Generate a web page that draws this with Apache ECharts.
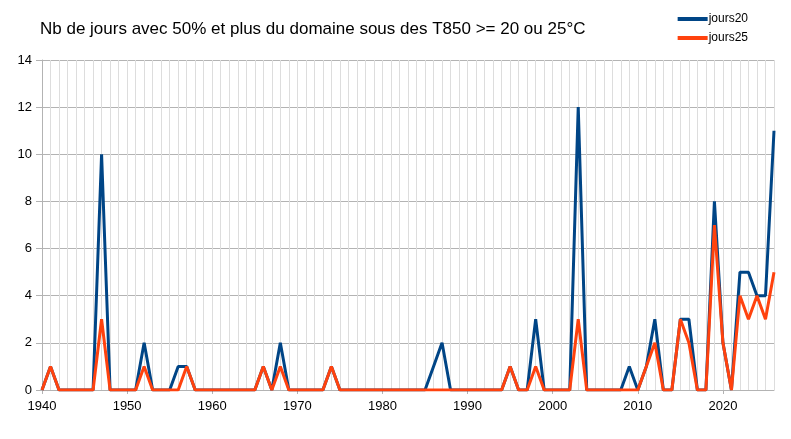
<!DOCTYPE html>
<html>
<head>
<meta charset="utf-8">
<script src="https://cdn.jsdelivr.net/npm/echarts@6/dist/echarts.min.js"></script>
<style>
html,body{margin:0;padding:0;background:#fff;}
#chart{width:791px;height:439px;}
</style>
</head>
<body>
<div id="chart"></div>
<script>
var titleText = "Nb de jours avec 50% et plus du domaine sous des T850 >= 20 ou 25°C";
var firstYear = 1940;
var lastYear = 2026;
var years = [];
for (var y = firstYear; y <= lastYear; y++) years.push(String(y));

// 1940 .. 2026
var jours20 = [
  0,1,0,0,0,0,0,10,0,0,   // 1940-1949
  0,0,2,0,0,0,1,1,0,0,    // 1950-1959
  0,0,0,0,0,0,1,0,2,0,    // 1960-1969
  0,0,0,0,1,0,0,0,0,0,    // 1970-1979
  0,0,0,0,0,0,1,2,0,0,    // 1980-1989
  0,0,0,0,0,1,0,0,3,0,    // 1990-1999
  0,0,0,12,0,0,0,0,0,1,   // 2000-2009
  0,1,3,0,0,3,3,0,0,8,    // 2010-2019
  2,0,5,5,4,4,11          // 2020-2026
];
var jours25 = [
  0,1,0,0,0,0,0,3,0,0,    // 1940-1949
  0,0,1,0,0,0,0,1,0,0,    // 1950-1959
  0,0,0,0,0,0,1,0,1,0,    // 1960-1969
  0,0,0,0,1,0,0,0,0,0,    // 1970-1979
  0,0,0,0,0,0,0,0,0,0,    // 1980-1989
  0,0,0,0,0,1,0,0,1,0,    // 1990-1999
  0,0,0,3,0,0,0,0,0,0,    // 2000-2009
  0,1,2,0,0,3,2,0,0,7,    // 2010-2019
  2,0,4,3,4,3,5           // 2020-2026
];

var chart = echarts.init(document.getElementById('chart'), null, {renderer: 'canvas'});
var font = 'Liberation Sans';
chart.setOption({
  animation: false,
  backgroundColor: '#ffffff',
  textStyle: {fontFamily: font},
  title: {
    text: titleText,
    left: 35,
    top: 16,
    textStyle: {fontFamily: font, fontSize: 17, fontWeight: 'normal', color: '#000000'}
  },
  legend: {
    orient: 'vertical',
    right: 38,
    top: 8,
    itemWidth: 30,
    itemHeight: 4,
    itemGap: 7,
    icon: 'rect',
    textStyle: {fontFamily: font, fontSize: 12, color: '#000000', padding: [0,0,0,-4]},
    data: ['jours20', 'jours25']
  },
  grid: {left: 42, right: 17, top: 60, bottom: 49, containLabel: false},
  xAxis: {
    type: 'category',
    data: years,
    boundaryGap: false,
    axisLine: {show: true, lineStyle: {color: '#b3b3b3', width: 1}},
    axisTick: {show: true, interval: 9, length: 4, inside: false, lineStyle: {color: '#b3b3b3'}},
    axisLabel: {interval: 9, color: '#000000', fontSize: 13, fontFamily: font, margin: 10},
    splitLine: {show: true, interval: 0, lineStyle: {color: '#dddddd', width: 1}}
  },
  yAxis: {
    type: 'value',
    min: 0,
    max: 14,
    interval: 2,
    axisLine: {show: true, lineStyle: {color: '#b3b3b3'}},
    axisTick: {show: true, length: 6, lineStyle: {color: '#b3b3b3'}},
    axisLabel: {color: '#000000', fontSize: 13, fontFamily: font, margin: 10},
    splitLine: {show: true, lineStyle: {color: '#b3b3b3', width: 1}}
  },
  series: [
    {
      name: 'jours20', type: 'line', data: jours20,
      showSymbol: false, symbol: 'none',
      lineStyle: {color: '#004586', width: 3},
      itemStyle: {color: '#004586'}
    },
    {
      name: 'jours25', type: 'line', data: jours25,
      showSymbol: false, symbol: 'none',
      lineStyle: {color: '#ff420e', width: 3},
      itemStyle: {color: '#ff420e'}
    }
  ]
});
</script>
</body>
</html>
